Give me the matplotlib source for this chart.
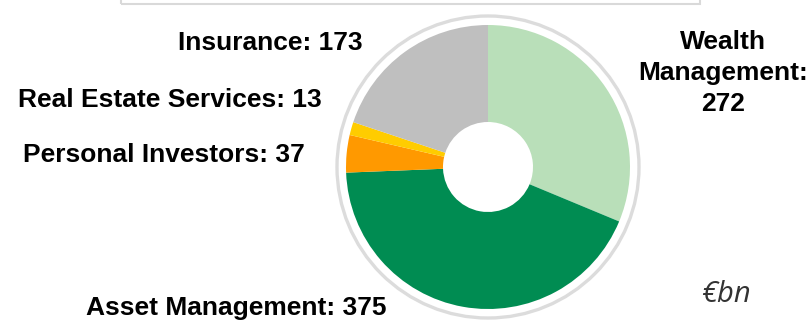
import matplotlib
matplotlib.use("Agg")
import matplotlib.pyplot as plt
from matplotlib.patches import Circle, Rectangle

# Assets under management by business, in € billions
segments = ["Wealth Management", "Asset Management", "Personal Investors",
            "Real Estate Services", "Insurance"]
values = [272, 375, 37, 13, 173]
colors = ["#b9dfb9", "#008c52", "#ff9900", "#ffcc00", "#bfbfbf"]

W, H = 810, 322
fig = plt.figure(figsize=(W / 100, H / 100), dpi=100)
ax = fig.add_axes([0, 0, 1, 1])

cx, cy = 488, H - 167
r_out, r_in = 142, 45

ax.pie(values, colors=colors, startangle=90, counterclock=False,
       radius=r_out, center=(cx, cy), frame=True,
       wedgeprops=dict(width=r_out - r_in, linewidth=0))
ax.set_xlim(0, W)
ax.set_ylim(0, H)
ax.set_aspect("equal")
ax.axis("off")

# light ring around the donut
ax.add_patch(Circle((cx, cy), 151, fill=False, edgecolor="#dcdcdc", linewidth=2.4))

# partially visible panel at the top
ax.add_patch(Rectangle((121, H - 4), 579, 20, fill=False,
                       edgecolor="#d9d9d9", linewidth=1.5, clip_on=True))

font = dict(family=["Liberation Sans", "DejaVu Sans"], fontweight="bold",
            fontsize=19, color="black")

ax.text(363, H - 43, f"Insurance: {values[4]}", ha="right", va="center", **font)
ax.text(322, H - 100, f"Real Estate Services: {values[3]}", ha="right", va="center", **font)
ax.text(305, H - 155, f"Personal Investors: {values[2]}", ha="right", va="center", **font)
ax.text(386, H - 308, f"Asset Management: {values[1]}", ha="right", va="center", **font)
ax.text(723, H - 73, f"Wealth\nManagement:\n{values[0]}", ha="center", va="center",
        linespacing=1.37, **font)

ax.text(726, H - 295, "€bn", ha="center", va="center", fontsize=21,
        style="italic", color="#333333", family=["Open Sans", "DejaVu Sans"])

fig.savefig("out.png", dpi=100)
